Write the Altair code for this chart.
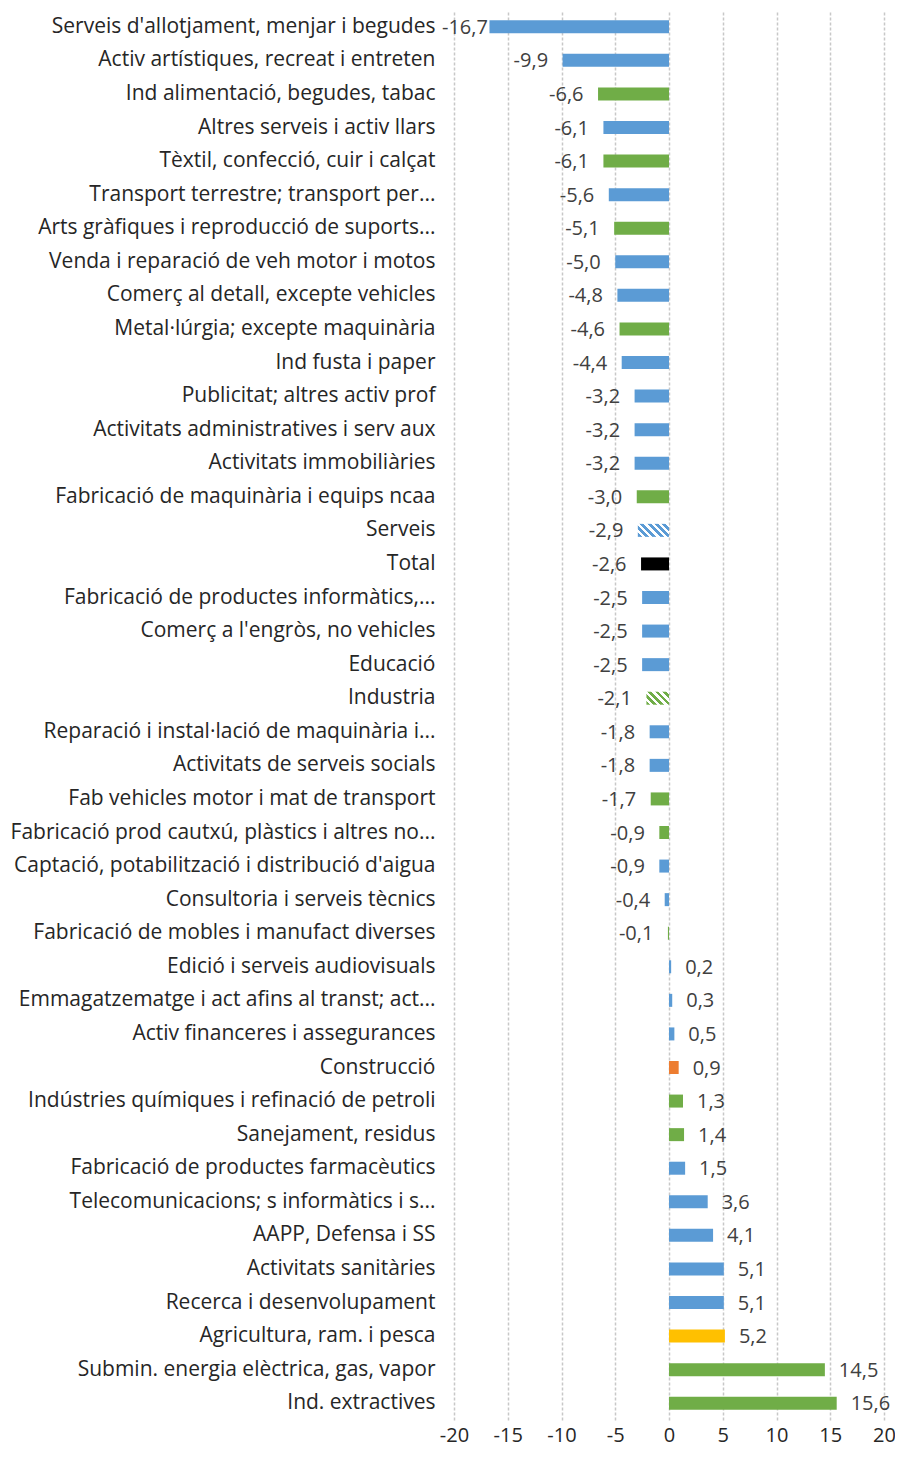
import altair as alt
import pandas as pd

categories = [
    "Serveis d'allotjament, menjar i begudes",
    "Activ artístiques, recreat i entreten",
    "Ind alimentació, begudes, tabac",
    "Altres serveis i activ llars",
    "Tèxtil, confecció, cuir i calçat",
    "Transport terrestre; transport per...",
    "Arts gràfiques i reproducció de suports...",
    "Venda i reparació de veh motor i motos",
    "Comerç al detall, excepte vehicles",
    "Metal·lúrgia; excepte maquinària",
    "Ind fusta i paper",
    "Publicitat; altres activ prof",
    "Activitats administratives i serv aux",
    "Activitats immobiliàries",
    "Fabricació de maquinària i equips ncaa",
    "Serveis",
    "Total",
    "Fabricació de productes informàtics,...",
    "Comerç a l'engròs, no vehicles",
    "Educació",
    "Industria",
    "Reparació i instal·lació de maquinària i...",
    "Activitats de serveis socials",
    "Fab vehicles motor i mat de transport",
    "Fabricació prod cautxú, plàstics i altres no...",
    "Captació, potabilització i distribució d'aigua",
    "Consultoria i serveis tècnics",
    "Fabricació de mobles i manufact diverses",
    "Edició i serveis audiovisuals",
    "Emmagatzematge i act afins al transt; act...",
    "Activ financeres i assegurances",
    "Construcció",
    "Indústries químiques i refinació de petroli",
    "Sanejament, residus",
    "Fabricació de productes farmacèutics",
    "Telecomunicacions; s informàtics i s...",
    "AAPP, Defensa i SS",
    "Activitats sanitàries",
    "Recerca i desenvolupament",
    "Agricultura, ram. i pesca",
    "Submin. energia elèctrica, gas, vapor",
    "Ind. extractives",
]

values = [
    -16.7, -9.9, -6.6, -6.1, -6.1, -5.6, -5.1, -5.0, -4.8, -4.6,
    -4.4, -3.2, -3.2, -3.2, -3.0, -2.9, -2.6, -2.5, -2.5, -2.5,
    -2.1, -1.8, -1.8, -1.7, -0.9, -0.9, -0.4, -0.1, 0.2, 0.3,
    0.5, 0.9, 1.3, 1.4, 1.5, 3.6, 4.1, 5.1, 5.1, 5.2,
    14.5, 15.6,
]

groups = [
    "serveis", "serveis", "industria", "serveis", "industria",
    "serveis", "industria", "serveis", "serveis", "industria",
    "serveis", "serveis", "serveis", "serveis", "industria",
    "serveis_total", "total", "serveis", "serveis", "serveis",
    "industria_total", "serveis", "serveis", "industria", "industria",
    "serveis", "serveis", "industria", "serveis", "serveis",
    "serveis", "construccio", "industria", "industria", "serveis",
    "serveis", "serveis", "serveis", "serveis", "agricultura",
    "industria", "industria",
]

group_names = ["serveis", "industria", "construccio", "agricultura", "total"]
group_colors = ["#5B9BD5", "#70AD47", "#ED7D31", "#FFC000", "#000000"]

FONT = "Open Sans"
FS_CAT = 21
FS = 20
PX_PER_UNIT = 430 / 40.0
BAR_H = 13

df = pd.DataFrame({"cat": categories, "val": values, "grp": groups})
df["label"] = df["val"].map(lambda v: f"{v:.1f}".replace(".", ","))
df["lx"] = [max(v - 1.35, -16.85) if v < 0 else v + 1.3 for v in values]

xscale = alt.Scale(domain=[-20, 20], nice=False, zero=False)
yenc = alt.Y(
    "cat:N",
    sort=categories,
    scale=alt.Scale(paddingInner=0.6, paddingOuter=0.3),
    axis=alt.Axis(
        title=None, ticks=False, domain=False, grid=False,
        labelFont=FONT, labelFontSize=FS_CAT, labelColor="#262626",
        labelPadding=19, labelLimit=600,
    ),
)
xenc = alt.X(
    "val:Q",
    scale=xscale,
    axis=alt.Axis(
        title=None, ticks=False, domain=False, grid=True,
        values=list(range(-20, 21, 5)),
        labelExpr="toString(datum.value)",
        gridColor="#C8C8C8", gridDash=[3, 2], gridWidth=1.5,
        labelFont=FONT, labelFontSize=FS, labelColor="#262626",
        labelPadding=5, labelFlush=False,
    ),
)

base = alt.Chart(df)

solid = base.transform_filter(
    alt.FieldOneOfPredicate(field="grp", oneOf=group_names)
).mark_bar(size=BAR_H).encode(
    y=yenc,
    x=xenc,
    x2=alt.datum(0),
    color=alt.Color("grp:N", scale=alt.Scale(domain=group_names, range=group_colors), legend=None),
)


def hatch(color, value):
    W = abs(value) * PX_PER_UNIT
    H = float(BAR_H)
    r = H / W
    s = (1 + r) / (1 + r * r)
    period = 7.0
    n = max(1, int(round((W + H) / period)))
    stops = []
    for k in range(n):
        a = k / n
        b = (k + 0.55) / n
        c = (k + 1) / n
        stops += [
            alt.GradientStop(offset=a, color=color),
            alt.GradientStop(offset=b, color=color),
            alt.GradientStop(offset=b, color="#FFFFFF"),
            alt.GradientStop(offset=c, color="#FFFFFF"),
        ]
    return alt.Gradient(gradient="linear", stops=stops, x1=0, y1=1, x2=s, y2=1 - s * r)


serveis_val = values[groups.index("serveis_total")]
industria_val = values[groups.index("industria_total")]

hatch_serveis = base.transform_filter(alt.datum.grp == "serveis_total").mark_bar(
    size=BAR_H, color=hatch("#5B9BD5", serveis_val)
).encode(y=yenc, x=xenc, x2=alt.datum(0))

hatch_industria = base.transform_filter(alt.datum.grp == "industria_total").mark_bar(
    size=BAR_H, color=hatch("#70AD47", industria_val)
).encode(y=yenc, x=xenc, x2=alt.datum(0))

lab_neg = base.transform_filter(alt.datum.val < 0).mark_text(
    align="right", baseline="middle", font=FONT, fontSize=FS, color="#404040", dy=1
).encode(y=yenc, x=alt.X("lx:Q", scale=xscale), text="label:N")

lab_pos = base.transform_filter(alt.datum.val >= 0).mark_text(
    align="left", baseline="middle", font=FONT, fontSize=FS, color="#404040", dy=1
).encode(y=yenc, x=alt.X("lx:Q", scale=xscale), text="label:N")

chart = alt.layer(solid, hatch_serveis, hatch_industria, lab_neg, lab_pos).properties(
    width=430,
    height=1410,
    autosize=alt.AutoSizeParams(type="none"),
    padding={"left": 446, "top": 2, "right": 11, "bottom": 29},
).configure(background="white").configure_view(stroke=None)

chart.save("out.html", embed_options={"renderer": "svg", "actions": False})
